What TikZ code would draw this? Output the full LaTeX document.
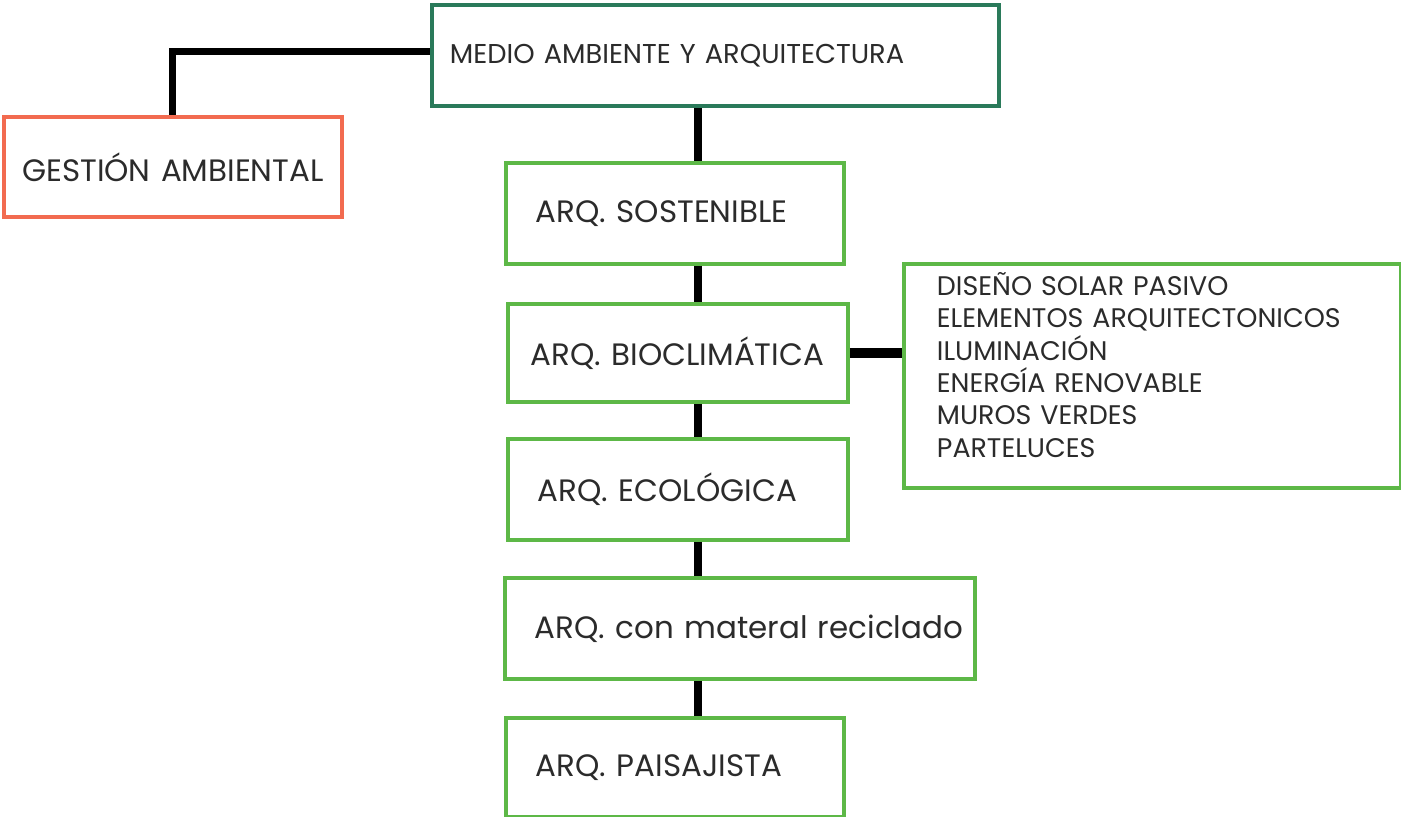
\documentclass[tikz,border=0pt]{standalone}
\usepackage{fontspec}
\setmainfont{Poppins}
\usetikzlibrary{positioning}

\definecolor{boxgreen}{HTML}{5DB847}
\definecolor{darkgreen}{HTML}{2A7A5A}
\definecolor{boxorange}{HTML}{F26B50}
\definecolor{textgray}{HTML}{2B2B2B}

\begin{document}
\begin{tikzpicture}[
    box/.style={draw, line width=2.2pt, fill=white, anchor=north west, align=left,
        inner xsep=0.6cm, inner ysep=0pt, text=textgray,
        font=\fontsize{17.6}{21}\selectfont},
    greenbox/.style={box, draw=boxgreen},
    link/.style={line width=4pt},
]

        \useasboundingbox (0,0) rectangle (28.02,-16.34);

        \node[box, draw=darkgreen, inner xsep=0.36cm, text width=10.62cm, minimum height=2.02cm,
            font=\fontsize{15.5}{19}\selectfont] (medio) at (8.6,-0.06) {MEDIO AMBIENTE Y ARQUITECTURA};
        \node[box, draw=boxorange, align=center, inner xsep=0.3cm, text width=6.16cm, minimum height=2.0cm] (gestion) at (0.04,-2.3) {GESTIÓN AMBIENTAL};

        \node[greenbox, text width=5.56cm, minimum height=2.02cm] (sost) at (10.08,-3.22) {ARQ. SOSTENIBLE};
        \node[greenbox, inner xsep=0.46cm, text width=5.88cm, minimum height=1.96cm] (bio) at (10.12,-6.04) {\mbox{ARQ. BIOCLIMÁTICA}};
        \node[greenbox, text width=5.6cm, minimum height=2.02cm] (eco) at (10.12,-8.74) {ARQ. ECOLÓGICA};
        \node[greenbox, text width=8.2cm, minimum height=2.02cm] (recic) at (10.06,-11.52) {\mbox{ARQ. con materal reciclado}};
        \node[greenbox, text width=5.56cm, minimum height=1.98cm] (paisaj) at (10.08,-14.32) {ARQ. PAISAJISTA};

        \node[greenbox, inner xsep=0.66cm, text width=8.62cm, minimum height=4.48cm, text depth=3.68cm,
            font=\fontsize{15.3}{18.4}\selectfont] (tecnicas) at (18.04,-5.24)
            {DISEÑO SOLAR PASIVO\\ELEMENTOS ARQUITECTONICOS\\ILUMINACIÓN\\ENERGÍA RENOVABLE\\MUROS VERDES\\PARTELUCES};

        \coordinate (eje) at (13.96,0);

        \draw[link] ([yshift=0.08cm]medio.west) -| (gestion.north);
        \draw[link] (medio.south -| eje) -- (sost.north -| eje);
        \draw[link] (sost.south -| eje) -- (bio.north -| eje);
        \draw[link] (bio.south -| eje) -- (eco.north -| eje);
        \draw[link] (eco.south -| eje) -- (recic.north -| eje);
        \draw[link] (recic.south -| eje) -- (paisaj.north -| eje);
        \draw[line width=5.8pt] (bio.east) -- (bio.east -| tecnicas.west);
\end{tikzpicture}
\end{document}
